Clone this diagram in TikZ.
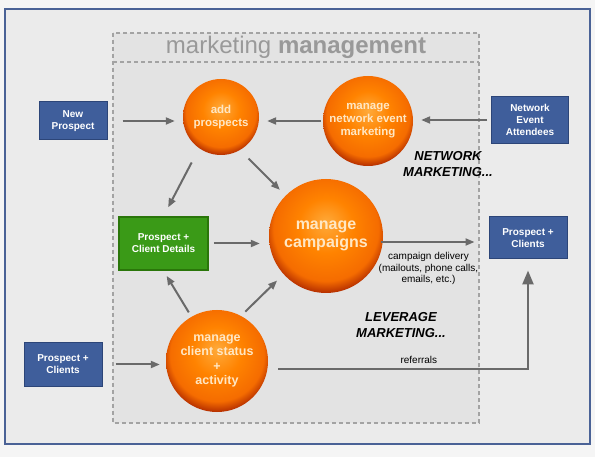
\documentclass[tikz,border=0pt]{standalone}
\usepackage{fontspec}
\setmainfont{Liberation Sans}
\usetikzlibrary{arrows.meta}
\definecolor{frameblue}{HTML}{4A6296}
\definecolor{boxblue}{HTML}{3F5E9B}
\definecolor{boxblueline}{HTML}{2C4578}
\definecolor{boxgreen}{HTML}{3A9A17}
\definecolor{boxgreenline}{HTML}{2A760A}
\definecolor{orbA}{HTML}{FFAA3A}
\definecolor{orbB}{HTML}{FF8300}
\definecolor{orbC}{HTML}{F56C00}
\definecolor{orbD}{HTML}{B02A00}
\definecolor{orbtext}{HTML}{FFE7C4}
\definecolor{arrowgray}{HTML}{6A6A6A}
\definecolor{dashgray}{HTML}{A3A3A3}
\pgfdeclareradialshading{orb}{\pgfpoint{0bp}{6bp}}{color(0bp)=(orbA); color(12bp)=(orbB); color(23bp)=(orbC); color(28bp)=(orbD); color(50bp)=(orbD)}
\def\fs#1#2{\fontsize{#1}{#2}\selectfont}
\tikzset{
	bluebox/.style={draw=boxblueline, line width=1pt, fill=boxblue, text=white, align=center, font=\bfseries\fs{10}{12}, inner sep=0pt},
	greenbox/.style={draw=boxgreenline, line width=1.5pt, fill=boxgreen, text=white, align=center, font=\bfseries\fs{10}{12}, inner sep=0pt},
	orb/.style={circle, shading=orb, text=orbtext, align=center, inner sep=0pt},
	flow/.style={draw=arrowgray, line width=2pt, -{Triangle[length=9pt,width=7pt]}},
	bigflow/.style={draw=arrowgray, line width=2.5pt, -{Triangle[length=14pt,width=11pt]}},
	dashbox/.style={draw=dashgray, line width=1.3pt, dash pattern=on 4pt off 3pt},
	note/.style={align=center, font=\fs{10}{11.5}}
}

\begin{document}
\begin{tikzpicture}[x=1pt, y=-1pt]
			%%%%% START %%%%%
			
			\useasboundingbox (0,0) rectangle (595,457);
			\fill[white!96!black] (0,0) rectangle (595,457);
			\draw[frameblue, line width=2.5pt, fill=white!92!black] (5,9) rectangle (590,444);
			
			\draw[dashbox, fill=white!89!black] (113,33) rectangle (479,423);
			\draw[dashbox] (113,62) -- (479,62);
			\node[text=white!60!black, font=\fs{24}{26}] (title) at (296,47) {marketing \textbf{management}};
			
			\node[orb, minimum size=76pt, font=\bfseries\fs{11.5}{13}] (add) at (221,117) {add\\prospects};
			\node[orb, minimum size=90pt, font=\bfseries\fs{11.5}{13}] (net) at (368,121) {manage\\network event\\marketing};
			\node[orb, minimum size=114pt, font=\bfseries\fs{16}{17.5}] (camp) at (326,236) {manage\\campaigns};
			\node[orb, minimum size=102pt, font=\bfseries\fs{12.5}{14.3}] (stat) at (217,361) {manage\\client status\\+\\activity};
			
			\node[bluebox, minimum width=68pt, minimum height=38pt] (newp) at (73,121) {New\\Prospect};
			\node[bluebox, minimum width=77pt, minimum height=47pt] (att) at (530,120) {Network\\Event\\Attendees};
			\node[greenbox, minimum width=89pt, minimum height=53pt] (details) at (163.5,243.5) {Prospect +\\Client Details};
			\node[bluebox, minimum width=78pt, minimum height=42pt] (rpc) at (528,238) {Prospect +\\Clients};
			\node[bluebox, minimum width=78pt, minimum height=43pt] (lpc) at (63,364.5) {Prospect +\\Clients};
			
			\node[font=\bfseries\itshape\fs{13}{16}, align=center] (netm) at (448,164) {NETWORK\\MARKETING...};
			\node[font=\bfseries\itshape\fs{13}{16}, align=center] (levm) at (401,325) {LEVERAGE\\MARKETING...};
			
			\draw[flow, shorten <=15pt, shorten >=8pt] (newp.east) -- (newp.east -| add.west);
			\draw[flow, shorten <=2pt, shorten >=8pt] (net.west) -- (net.west -| add.east);
			\draw[flow, shorten <=4pt, shorten >=8pt] (att.west) -- (att.west -| net.east);
			\draw[flow, shorten <=16pt, shorten >=10pt] (add.235) -- (details.north);
			\draw[flow, shorten <=12pt, shorten >=8pt] (add.-60) -- (camp.135);
			\draw[flow, shorten <=5pt, shorten >=9pt] (details.east) -- (details.east -| camp.west);
			\draw[flow, shorten <=5pt, shorten >=6pt] (stat.120) -- (details.south);
			\draw[flow, shorten <=6pt, shorten >=9pt] (stat.62) -- (camp.222);
			\draw[flow, shorten <=13pt, shorten >=6pt] (lpc.east) -- (lpc.east -| stat.west);
			\draw[flow, shorten <=-2pt, shorten >=14pt] (camp.east |- 0,242) -- (rpc.west |- 0,242)
				node[note, pos=0.43, below=6pt] (deliv) {campaign delivery\\(mailouts, phone calls,\\emails, etc.)};
			\draw[bigflow, shorten <=10pt, shorten >=11pt] ([yshift=-8pt]stat.east) -| (rpc.south)
				node[note, pos=0.29, above=1pt] (refs) {referrals};
			
			%%%%% END %%%%%
\end{tikzpicture}
\end{document}
